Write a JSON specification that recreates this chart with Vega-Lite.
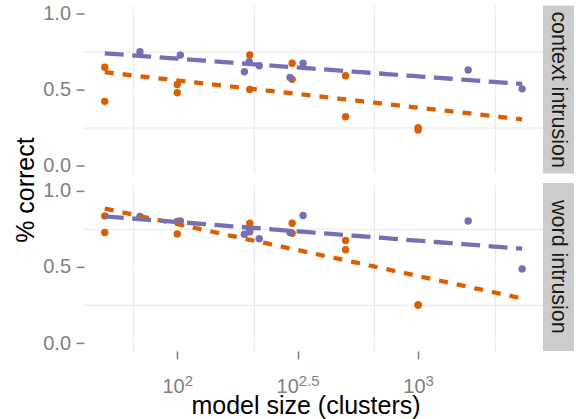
{
  "$schema": "https://vega.github.io/schema/vega-lite/v6.json",
  "padding": {"left": 13, "top": 2.6, "right": 3, "bottom": 0},
  "background": "white",
  "config": {"font": "Liberation Sans", "view": {"stroke": null}},
  "title": {"text": "% correct", "orient": "left", "anchor": "middle", "fontSize": 25, "fontWeight": "normal", "color": "#000000", "offset": 4, "dx": 21},
  "datasets": {
    "points": [
      {"task": "context intrusion", "series": "M1", "x": 50, "y": 0.646},
      {"task": "context intrusion", "series": "M1", "x": 50, "y": 0.423},
      {"task": "context intrusion", "series": "M1", "x": 100, "y": 0.534},
      {"task": "context intrusion", "series": "M1", "x": 100, "y": 0.479},
      {"task": "context intrusion", "series": "M1", "x": 200, "y": 0.726},
      {"task": "context intrusion", "series": "M1", "x": 200, "y": 0.501},
      {"task": "context intrusion", "series": "M1", "x": 300, "y": 0.672},
      {"task": "context intrusion", "series": "M1", "x": 300, "y": 0.567},
      {"task": "context intrusion", "series": "M1", "x": 500, "y": 0.591},
      {"task": "context intrusion", "series": "M1", "x": 500, "y": 0.322},
      {"task": "context intrusion", "series": "M1", "x": 1000, "y": 0.25},
      {"task": "context intrusion", "series": "M1", "x": 1000, "y": 0.235},
      {"task": "word intrusion", "series": "M1", "x": 50, "y": 0.834},
      {"task": "word intrusion", "series": "M1", "x": 50, "y": 0.725},
      {"task": "word intrusion", "series": "M1", "x": 100, "y": 0.797},
      {"task": "word intrusion", "series": "M1", "x": 100, "y": 0.716},
      {"task": "word intrusion", "series": "M1", "x": 200, "y": 0.786},
      {"task": "word intrusion", "series": "M1", "x": 200, "y": 0.73},
      {"task": "word intrusion", "series": "M1", "x": 300, "y": 0.786},
      {"task": "word intrusion", "series": "M1", "x": 300, "y": 0.72},
      {"task": "word intrusion", "series": "M1", "x": 500, "y": 0.673},
      {"task": "word intrusion", "series": "M1", "x": 500, "y": 0.612},
      {"task": "word intrusion", "series": "M1", "x": 1000, "y": 0.251},
      {"task": "word intrusion", "series": "M1", "x": 1000, "y": 0.251},
      {"task": "context intrusion", "series": "M2", "x": 70, "y": 0.748},
      {"task": "context intrusion", "series": "M2", "x": 103, "y": 0.726},
      {"task": "context intrusion", "series": "M2", "x": 190, "y": 0.617},
      {"task": "context intrusion", "series": "M2", "x": 199, "y": 0.682},
      {"task": "context intrusion", "series": "M2", "x": 219, "y": 0.656},
      {"task": "context intrusion", "series": "M2", "x": 294, "y": 0.58},
      {"task": "context intrusion", "series": "M2", "x": 333, "y": 0.672},
      {"task": "context intrusion", "series": "M2", "x": 1614, "y": 0.628},
      {"task": "context intrusion", "series": "M2", "x": 2704, "y": 0.505},
      {"task": "word intrusion", "series": "M2", "x": 70, "y": 0.83},
      {"task": "word intrusion", "series": "M2", "x": 103, "y": 0.8},
      {"task": "word intrusion", "series": "M2", "x": 190, "y": 0.714},
      {"task": "word intrusion", "series": "M2", "x": 199, "y": 0.731},
      {"task": "word intrusion", "series": "M2", "x": 219, "y": 0.684},
      {"task": "word intrusion", "series": "M2", "x": 294, "y": 0.725},
      {"task": "word intrusion", "series": "M2", "x": 333, "y": 0.836},
      {"task": "word intrusion", "series": "M2", "x": 1614, "y": 0.8},
      {"task": "word intrusion", "series": "M2", "x": 2704, "y": 0.487}
    ]
  },
  "spacing": 3.3,
  "vconcat": [
    {
      "spacing": 0,
      "hconcat": [
        {
          "width": 459,
          "height": 168,
          "data": {"name": "points"},
          "transform": [{"filter": "datum.task == 'context intrusion'"}],
          "encoding": {
            "x": {
              "field": "x", "type": "quantitative",
              "scale": {"type": "log", "domain": [41, 3300], "nice": false, "zero": false},
              "axis": {
                "values": [65.8, 100, 208, 316.2278, 657.7, 1000, 2080],
                "grid": true,
                "gridColor": {"condition": {"test": "datum.value == 100 || datum.value == 1000 || datum.value == 316.2278", "value": "#ffffff"}, "value": "#ebebeb"},
                "gridWidth": 1.2,
                "ticks": false, "labels": false, "domain": false, "title": null
              }
            },
            "y": {
              "field": "y", "type": "quantitative",
              "scale": {"domain": [-0.05, 1.05], "nice": false, "zero": false},
              "axis": {
                "values": [0, 0.25, 0.5, 0.75, 1],
                "labelExpr": "datum.value == 0.25 || datum.value == 0.75 ? '' : format(datum.value, '.1f')",
                "labelFontSize": 20, "labelColor": "#7f7f7f", "labelPadding": 5.5,
                "tickSize": 8, "tickWidth": 1.5, "tickColor": "#7f7f7f",
                "tickOpacity": {"condition": {"test": "datum.value == 0.25 || datum.value == 0.75", "value": 0}, "value": 1},
                "domain": false, "grid": true,
                "gridColor": {"condition": {"test": "datum.value == 0.25 || datum.value == 0.75", "value": "#ebebeb"}, "value": "#ffffff"},
                "gridWidth": 1.2,
                "labelOverlap": false,
                "title": null
              }
            }
          },
          "layer": [
            {
              "mark": {"type": "point", "filled": true, "size": 55, "opacity": 1},
              "encoding": {
                "color": {"field": "series", "type": "nominal", "scale": {"domain": ["M1", "M2"], "range": ["#D95F02", "#7570B3"]}, "legend": null}
              }
            },
            {
              "transform": [{"regression": "y", "on": "x", "groupby": ["series"], "method": "log", "extent": [50, 2704]}],
              "mark": {"type": "line", "strokeWidth": 4.3, "strokeCap": "butt"},
              "encoding": {
                "color": {"field": "series", "type": "nominal", "scale": {"domain": ["M1", "M2"], "range": ["#D95F02", "#7570B3"]}, "legend": null},
                "strokeDash": {"field": "series", "type": "nominal", "scale": {"domain": ["M1", "M2"], "range": [[9, 9], [19, 8.5]]}, "legend": null}
              }
            }
          ]
        },
        {
          "width": 31,
          "height": 168,
          "view": {"fill": "#cccccc", "stroke": null},
          "data": {"values": [{"label": "context intrusion"}]},
          "mark": {"type": "text", "angle": 90, "fontSize": 21.5, "color": "#1a1a1a", "baseline": "middle", "align": "center"},
          "encoding": {"text": {"field": "label", "type": "nominal"}}
        }
      ]
    },
    {
      "spacing": 0,
      "hconcat": [
        {
          "width": 459,
          "height": 168,
          "data": {"name": "points"},
          "transform": [{"filter": "datum.task == 'word intrusion'"}],
          "resolve": {"axis": {"x": "independent"}},
          "encoding": {
            "y": {
              "field": "y", "type": "quantitative",
              "scale": {"domain": [-0.05, 1.05], "nice": false, "zero": false},
              "axis": {
                "values": [0, 0.25, 0.5, 0.75, 1],
                "labelExpr": "datum.value == 0.25 || datum.value == 0.75 ? '' : format(datum.value, '.1f')",
                "labelFontSize": 20, "labelColor": "#7f7f7f", "labelPadding": 5.5,
                "tickSize": 8, "tickWidth": 1.5, "tickColor": "#7f7f7f",
                "tickOpacity": {"condition": {"test": "datum.value == 0.25 || datum.value == 0.75", "value": 0}, "value": 1},
                "domain": false, "grid": true,
                "gridColor": {"condition": {"test": "datum.value == 0.25 || datum.value == 0.75", "value": "#ebebeb"}, "value": "#ffffff"},
                "gridWidth": 1.2,
                "labelOverlap": false,
                "title": null
              }
            }
          },
          "layer": [
            {
              "mark": {"type": "point", "filled": true, "size": 55, "opacity": 1},
              "encoding": {
                "x": {
                  "field": "x", "type": "quantitative",
                  "scale": {"type": "log", "domain": [41, 3300], "nice": false, "zero": false},
                  "axis": {
                    "orient": "bottom",
                    "values": [65.8, 100, 208, 316.2278, 657.7, 1000, 2080],
                    "grid": true,
                    "gridColor": {"condition": {"test": "datum.value == 100 || datum.value == 1000 || datum.value == 316.2278", "value": "#ffffff"}, "value": "#ebebeb"},
                    "gridWidth": 1.2,
                    "ticks": true, "tickSize": 8, "tickWidth": 1.5, "tickColor": "#7f7f7f",
                    "tickOpacity": {"condition": {"test": "datum.value == 100 || datum.value == 1000 || datum.value == 316.2278", "value": 1}, "value": 0},
                    "labelExpr": "datum.value == 100 || datum.value == 1000 || datum.value == 316.2278 ? '10' : ''",
                    "labelFontSize": 20, "labelColor": "#7f7f7f", "labelAlign": "right", "labelBaseline": "alphabetic",
                    "labelPadding": 34,
                    "labelOffset": {"condition": {"test": "datum.value == 316.2278", "value": 0.65}, "value": 6.95},
                    "labelFlush": false, "labelOverlap": false, "domain": false,
                    "title": "model size (clusters)", "titleFontSize": 25, "titleFontWeight": "normal", "titleColor": "#000000",
                    "titleBaseline": "alphabetic", "titleY": 63, "titleX": 221.5, "titleAlign": "center"
                  }
                },
                "color": {"field": "series", "type": "nominal", "scale": {"domain": ["M1", "M2"], "range": ["#D95F02", "#7570B3"]}, "legend": null}
              }
            },
            {
              "transform": [{"regression": "y", "on": "x", "groupby": ["series"], "method": "log", "extent": [50, 2704]}],
              "mark": {"type": "line", "strokeWidth": 4.3, "strokeCap": "butt"},
              "encoding": {
                "x": {
                  "field": "x", "type": "quantitative",
                  "scale": {"type": "log", "domain": [41, 3300], "nice": false, "zero": false},
                  "axis": {
                    "orient": "bottom",
                    "values": [100, 316.2278, 1000],
                    "grid": false,
                    "ticks": true, "tickSize": 8, "tickOpacity": 0,
                    "domain": false,
                    "labelExpr": "datum.value == 100 ? '2' : datum.value == 1000 ? '3' : '2.5'",
                    "labelFontSize": 15, "labelColor": "#7f7f7f", "labelAlign": "left", "labelBaseline": "alphabetic",
                    "labelPadding": 26.3,
                    "labelOffset": {"condition": {"test": "datum.value == 316.2278", "value": 0.65}, "value": 6.95},
                    "labelFlush": false, "labelOverlap": false,
                    "title": null
                  }
                },
                "color": {"field": "series", "type": "nominal", "scale": {"domain": ["M1", "M2"], "range": ["#D95F02", "#7570B3"]}, "legend": null},
                "strokeDash": {"field": "series", "type": "nominal", "scale": {"domain": ["M1", "M2"], "range": [[9, 9], [19, 8.5]]}, "legend": null}
              }
            }
          ]
        },
        {
          "width": 31,
          "height": 168,
          "view": {"fill": "#cccccc", "stroke": null},
          "data": {"values": [{"label": "word intrusion"}]},
          "mark": {"type": "text", "angle": 90, "fontSize": 21.5, "color": "#1a1a1a", "baseline": "middle", "align": "center"},
          "encoding": {"text": {"field": "label", "type": "nominal"}}
        }
      ]
    }
  ]
}
